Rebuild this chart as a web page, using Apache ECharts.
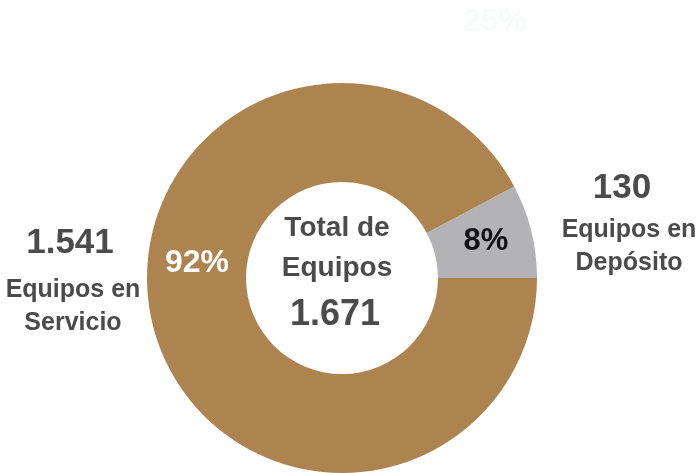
<!DOCTYPE html>
<html>
<head>
<meta charset="utf-8">
<script src="https://cdn.jsdelivr.net/npm/echarts@6/dist/echarts.min.js"></script>
<style>
html,body{margin:0;padding:0;background:#fff;}
#c{width:699px;height:473px;}
</style>
</head>
<body>
<div id="c"></div>
<script>
var categories = ['Equipos en Depósito', 'Equipos en Servicio'];
var values = [130, 1541];
var percentLabels = ['8%', '92%'];
var totalLabel = '1.671';
var valueLabels = ['130', '1.541'];
var hiddenLabel = '25%';

var FONT = '"Liberation Sans", Arial, sans-serif';
var DARK = '#4b4b4b';

var chart = echarts.init(document.getElementById('c'));

function txt(x, y, s, size, color, align) {
  return {
    type: 'text', x: x, y: y, silent: true, z: 100, zlevel: 0,
    style: {
      text: s, fill: color, font: 'bold ' + size + 'px ' + FONT,
      textAlign: align || 'center', textVerticalAlign: 'middle'
    }
  };
}

chart.setOption({
  backgroundColor: '#ffffff',
  animation: false,
  series: [{
    type: 'pie',
    z: 1,
    center: [342, 278],
    radius: [96, 195],
    startAngle: 0,
    clockwise: false,
    label: { show: false },
    labelLine: { show: false },
    emphasis: { disabled: true },
    itemStyle: { borderWidth: 0 },
    data: [
      { name: categories[0], value: values[0], itemStyle: { color: '#b3b2b4' } },
      { name: categories[1], value: values[1], itemStyle: { color: '#ad8350' } }
    ]
  }],
  graphic: {
    elements: [
      txt(495, 22, hiddenLabel, 32, '#f9fafb'),
      txt(70, 243, valueLabels[1], 35, DARK),
      txt(73, 290, 'Equipos en', 25, DARK),
      txt(73, 323, 'Servicio', 25, DARK),
      txt(622, 188, valueLabels[0], 35, DARK),
      txt(629, 230, 'Equipos en', 25, DARK),
      txt(629, 263, 'Depósito', 25, DARK),
      txt(337, 228, 'Total de', 28, DARK),
      txt(337, 268, 'Equipos', 28, DARK),
      txt(335, 315, totalLabel, 36, DARK),
      txt(197, 263, percentLabels[1], 32, '#ffffff'),
      txt(486, 241, percentLabels[0], 31, '#111111')
    ]
  }
});
</script>
</body>
</html>
